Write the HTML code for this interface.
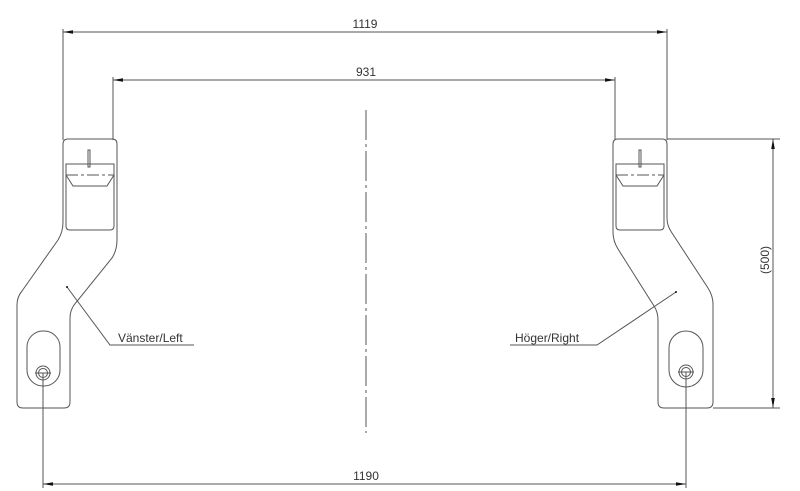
<!DOCTYPE html>
<html><head><meta charset="utf-8"><style>
html,body{margin:0;padding:0;background:#fff;width:800px;height:491px;overflow:hidden}
svg{display:block}
text{font-family:"Liberation Sans",sans-serif;font-size:12px;fill:#333}
</style></head><body>
<svg width="800" height="491" viewBox="0 0 800 491" xmlns="http://www.w3.org/2000/svg">
<defs>
<marker id="a" viewBox="0 0 10 6" refX="10" refY="3" markerWidth="10" markerHeight="6" orient="auto-start-reverse" markerUnits="userSpaceOnUse"><path d="M10,3 L0,1.2 L0,4.8Z" fill="#111"/></marker>
</defs>
<g stroke="#555" stroke-width="1" fill="none">
<line x1="63" y1="29" x2="63" y2="140"/>
<line x1="667" y1="29" x2="667" y2="140"/>
<line x1="113" y1="77" x2="113" y2="140"/>
<line x1="615" y1="77" x2="615" y2="140"/>
<line x1="43" y1="373" x2="43" y2="488"/>
<line x1="686" y1="372" x2="686" y2="488"/>
<line x1="667" y1="139" x2="780" y2="139"/>
<line x1="713" y1="408" x2="780" y2="408"/>
<line x1="63" y1="32" x2="667" y2="32" marker-start="url(#a)" marker-end="url(#a)"/>
<line x1="113" y1="80" x2="615" y2="80" marker-start="url(#a)" marker-end="url(#a)"/>
<line x1="43" y1="484" x2="686" y2="484" marker-start="url(#a)" marker-end="url(#a)"/>
<line x1="773" y1="139" x2="773" y2="408" marker-start="url(#a)" marker-end="url(#a)"/>
<line x1="366" y1="110" x2="366" y2="433" stroke-dasharray="30,4,3,4"/>
<path d="M68,139 H112 Q117,139 117,144 V240 Q117,250 112,258 L74,305 Q70,311 70,318 V402 Q70,408 64,408 H23 Q17,408 17,402 V305 Q17,297 22,291 L58,240 Q63,232 63,222 V144 Q63,139 68,139Z"/>
<path d="M66,164 H114 V226 Q114,230 110,230 H70 Q66,230 66,226Z"/>
<path d="M66,175 L73,186 H107 L114,175"/>
<line x1="66" y1="175" x2="114" y2="175" stroke-dasharray="12,3,3,3"/>
<rect x="88" y="150" width="2" height="17"/>
<rect x="27" y="331" width="33" height="55" rx="16"/>
<circle cx="43" cy="373" r="7"/><circle cx="43" cy="373" r="4.5"/>
<line x1="35" y1="373" x2="51" y2="373"/>
<path d="M618,139 H662 Q667,139 667,144 V218 Q667,226 672,233 L708,288 Q713,296 713,304 V402 Q713,408 707,408 H664 Q658,408 658,402 V320 Q658,312 654,306 L618,249 Q613,241 613,232 V144 Q613,139 618,139Z"/>
<path d="M616,164 H664 V226 Q664,230 660,230 H620 Q616,230 616,226Z"/>
<path d="M616,175 L623,186 H657 L664,175"/>
<line x1="616" y1="175" x2="664" y2="175" stroke-dasharray="12,3,3,3"/>
<rect x="639" y="150" width="2" height="17"/>
<rect x="669" y="331" width="34" height="56" rx="17"/>
<circle cx="686" cy="372" r="7"/><circle cx="686" cy="372" r="4.5"/>
<line x1="678" y1="372" x2="694" y2="372"/>
<polyline points="67,287 110,345 194,345"/>
<polyline points="676,292 597,345 510,345"/>
</g>
<circle cx="67" cy="287" r="1" fill="#111"/>
<circle cx="676" cy="292" r="1" fill="#111"/>
<text x="365" y="28" text-anchor="middle">1119</text>
<text x="366" y="76" text-anchor="middle">931</text>
<text x="366" y="480" text-anchor="middle">1190</text>
<text x="118" y="342">Vänster/Left</text>
<text x="515" y="342">Höger/Right</text>
<text transform="translate(769,260) rotate(-90)" text-anchor="middle">(500)</text>
</svg>
</body></html>
